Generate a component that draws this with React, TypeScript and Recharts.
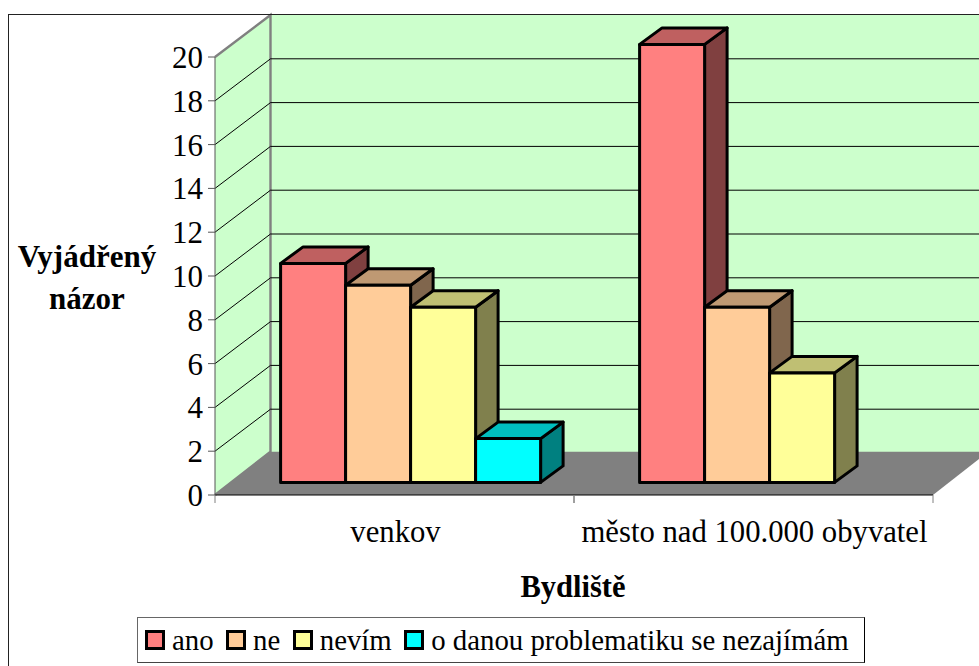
import React from 'react'
import { BarChart, Bar, XAxis, YAxis, Legend, Label, ReferenceArea, ReferenceLine } from 'recharts'

const categories = ['venkov', 'město nad 100.000 obyvatel']
const ano = [10, 20]
const ne = [9, 8]
const nevim = [8, 5]
const nezajem = [2, null]
const yTicks = [0, 2, 4, 6, 8, 10, 12, 14, 16, 18, 20]

const data = categories.map((name, i) => ({
  name,
  ano: ano[i],
  ne: ne[i],
  nevim: nevim[i],
  nezajem: nezajem[i],
}))

const FONT = '"Liberation Serif", "Times New Roman", serif'
// how far the back wall sits behind the front plane
const WALL_DX = 55.5
const WALL_DY = -42
const FLOOR_DY = -43.3
// bars stand a bit inside the floor
const BAR_DX = 16.6
const BAR_DY = -12.6
const BAR_DEPTH_X = 22.5
const BAR_DEPTH_Y = -16.5

function Bar3D(props: any) {
  const { x, y, width, height, fill, topFill, sideFill } = props
  if (!height) return null
  const l = x + BAR_DX
  const t = y + BAR_DY
  const r = l + width
  const b = t + height
  const dx = BAR_DEPTH_X
  const dy = BAR_DEPTH_Y
  const line = { stroke: '#000', strokeWidth: 3, strokeLinejoin: 'round' as const }
  return (
    <g>
      <polygon points={`${r},${t} ${r + dx},${t + dy} ${r + dx},${b + dy} ${r},${b}`} fill={sideFill} {...line} />
      <polygon points={`${l},${t} ${l + dx},${t + dy} ${r + dx},${t + dy} ${r},${t}`} fill={topFill} {...line} />
      <rect x={l} y={t} width={width} height={height} fill={fill} {...line} />
    </g>
  )
}

function Walls(props: any) {
  const { x, y, width, height } = props
  const b = y + height
  const r = x + width
  return (
    <g>
      <polygon points={`${x},${y} ${x + WALL_DX},${y + WALL_DY} ${x + WALL_DX},${b + FLOOR_DY} ${x},${b}`} fill="#CCFFCC" />
      <rect x={x + WALL_DX} y={y + WALL_DY} width={width} height={height} fill="#CCFFCC" />
      <polygon points={`${x},${b} ${x + WALL_DX},${b + FLOOR_DY} ${r + WALL_DX},${b + FLOOR_DY} ${r},${b}`} fill="#808080" />
      <polyline
        points={`${x},${y} ${x + WALL_DX},${y + WALL_DY} ${x + WALL_DX},${b + FLOOR_DY} ${x},${b}`}
        fill="none"
        stroke="#808080"
        strokeWidth={2.4}
      />
    </g>
  )
}

function WallGrid(props: any) {
  const { x1, y1, x2, y2 } = props
  return (
    <g>
      <line x1={x1} y1={y1} x2={x1 + WALL_DX} y2={y1 + WALL_DY} stroke="#000" strokeWidth={1} />
      <line x1={x1 + WALL_DX} y1={y1 + WALL_DY} x2={x2 + WALL_DX} y2={y2 + WALL_DY} stroke="#000" strokeWidth={1} />
    </g>
  )
}

function CategoryTick(props: any) {
  const { x, y, payload } = props
  const half = payload.offset
  return (
    <g>
      <line x1={x - half} y1={y} x2={x - half} y2={y + 8} stroke="#808080" />
      <line x1={x + half} y1={y} x2={x + half} y2={y + 8} stroke="#808080" />
      <text x={x + 1} y={y + 47} textAnchor="middle" fontFamily={FONT} fontSize={30.7} fill="#000">
        {payload.value}
      </text>
    </g>
  )
}

function YTitle() {
  return (
    <text fontFamily={FONT} fontSize={31} fontWeight="bold" fill="#000" textAnchor="middle">
      <tspan x={87} y={267}>Vyjádřený</tspan>
      <tspan x={87} y={309}>názor</tspan>
    </text>
  )
}

function XTitle() {
  return (
    <text x={573} y={597} fontFamily={FONT} fontSize={30.5} fontWeight="bold" fill="#000" textAnchor="middle">
      Bydliště
    </text>
  )
}

function LegendBox({ payload }: any) {
  return (
    <div
      style={{
        boxSizing: 'border-box',
        width: 728,
        height: 46,
        borderTop: '1px solid #666',
        borderLeft: '1px solid #666',
        borderRight: '1px solid #000',
        borderBottom: '1px solid #444',
        background: '#fff',
        display: 'flex',
        alignItems: 'center',
        paddingLeft: 7,
        fontFamily: FONT,
        fontSize: 28.8,
        color: '#000',
        whiteSpace: 'nowrap',
      }}
    >
      {(payload || []).map((item: any) => (
        <span key={item.value} style={{ display: 'flex', flexShrink: 0, alignItems: 'center', marginRight: 12.5 }}>
          <span
            style={{
              boxSizing: 'border-box',
              width: 20,
              height: 20,
              marginRight: 7,
              background: item.color,
              border: '3px solid #000',
            }}
          />
          {item.value}
        </span>
      ))}
    </div>
  )
}

export default function App() {
  return (
    <div style={{ position: 'absolute', left: 0, top: 0, width: 979, height: 666, overflow: 'hidden', background: '#fff' }}>
      <div style={{ position: 'absolute', left: 0, top: 0 }}>
        <BarChart
          width={979}
          height={666}
          data={data}
          margin={{ top: 57, right: 46, bottom: 131, left: 155 }}
          barCategoryGap={49}
          barGap={0}
        >
          <ReferenceArea y1={0} y2={20} shape={Walls} ifOverflow="visible" zIndex={50} />
          {yTicks.slice(1, -1).map((v) => (
            <ReferenceLine key={v} y={v} shape={WallGrid} ifOverflow="visible" zIndex={60} />
          ))}
          <XAxis
            dataKey="name"
            height={40}
            interval={0}
            tickLine={false}
            tickSize={0}
            tickMargin={0}
            axisLine={{ stroke: '#000' }}
            tick={CategoryTick}
          >
            <Label content={XTitle} />
          </XAxis>
          <YAxis
            width={60}
            domain={[0, 20]}
            ticks={yTicks}
            interval={0}
            tickSize={7}
            tickMargin={5}
            stroke="#555"
            tick={{ fontFamily: FONT, fontSize: 31, fill: '#000' }}
          >
            <Label content={YTitle} />
          </YAxis>
          <Legend
            layout="horizontal"
            verticalAlign="middle"
            content={LegendBox}
            wrapperStyle={{ position: 'absolute', left: 137, top: 617, width: 728, height: 46, margin: 0 }}
          />
          <Bar dataKey="ano" name="ano" fill="#FF8080" isAnimationActive={false}
            shape={(p: any) => <Bar3D {...p} fill="#FF8080" topFill="#BF6060" sideFill="#804040" />} />
          <Bar dataKey="ne" name="ne" fill="#FFCC99" isAnimationActive={false}
            shape={(p: any) => <Bar3D {...p} fill="#FFCC99" topFill="#BF9973" sideFill="#80664D" />} />
          <Bar dataKey="nevim" name="nevím" fill="#FFFF99" isAnimationActive={false}
            shape={(p: any) => <Bar3D {...p} fill="#FFFF99" topFill="#BFBF73" sideFill="#80804D" />} />
          <Bar dataKey="nezajem" name="o danou problematiku se nezajímám" fill="#00FFFF" isAnimationActive={false}
            shape={(p: any) => <Bar3D {...p} fill="#00FFFF" topFill="#00BFBF" sideFill="#008080" />} />
        </BarChart>
      </div>
      <div
        style={{
          position: 'absolute',
          left: 8,
          top: 14,
          width: 1000,
          height: 700,
          border: '1px solid #222',
          pointerEvents: 'none',
        }}
      />
    </div>
  )
}
